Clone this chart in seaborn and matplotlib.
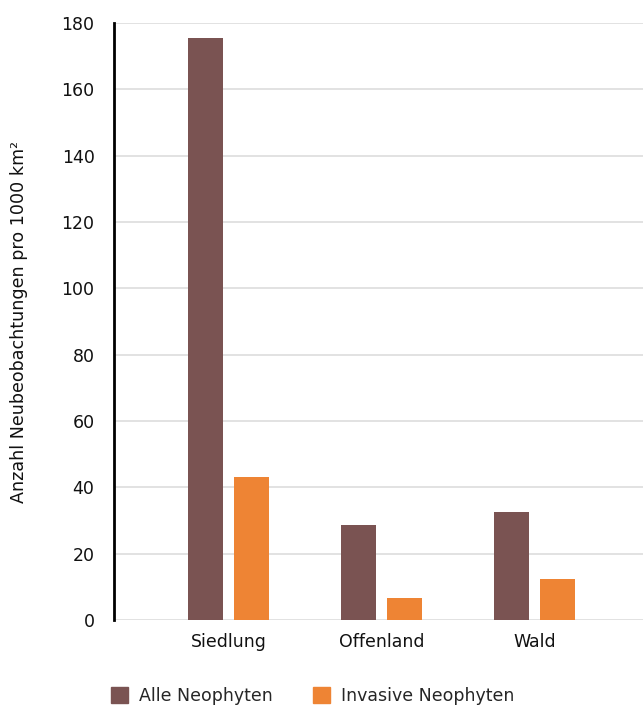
import pandas as pd
import matplotlib.pyplot as plt
import seaborn as sns
from matplotlib.patches import Patch

# Data
categories = ['Siedlung', 'Offenland', 'Wald']
series = ['Alle Neophyten', 'Invasive Neophyten']
alle = [175.5, 28.6, 32.6]
invasive = [43.1, 6.6, 12.4]
colors = ['#7a5352', '#ee8434']

df = pd.DataFrame({
    'Lebensraum': categories * 2,
    'Gruppe': [series[0]] * 3 + [series[1]] * 3,
    'Wert': alle + invasive,
})

sns.set_style('white')
plt.rcParams['font.family'] = ['DejaVu Sans']

fig = plt.figure(figsize=(6.43, 7.06), dpi=100)
ax = fig.add_axes([0.1773, 0.1218, 0.8227, 0.8456])

sns.barplot(data=df, x='Lebensraum', y='Wert', hue='Gruppe', palette=colors,
            saturation=1, width=0.6, gap=0.23, linewidth=0,
            ax=ax, legend=False, zorder=3)

ax.set_xlim(-0.75, 2.71)
ax.set_ylim(0, 180)
ax.set_yticks(range(0, 181, 20))
ax.grid(axis='y', color='#dddddd', linewidth=1.2, zorder=0)
ax.set_axisbelow(True)
for s in ['top', 'right', 'bottom']:
    ax.spines[s].set_visible(False)
ax.spines['left'].set_color('black')
ax.spines['left'].set_linewidth(2)
ax.tick_params(axis='both', length=0, labelsize=12.5, colors='#111111')
ax.tick_params(axis='y', pad=14)
ax.tick_params(axis='x', pad=9)
ax.set_xlabel('')
ax.set_ylabel('Anzahl Neubeobachtungen pro 1000 km²', fontsize=12.6,
              labelpad=24, color='#111111')

handles = [Patch(color=c, label=l) for c, l in zip(colors, series)]
fig.legend(handles=handles, loc='center left', bbox_to_anchor=(0.148, 0.014),
           ncol=2, frameon=False, fontsize=12.5, handlelength=1.0, handleheight=1.0,
           columnspacing=2.35, handletextpad=0.6)

fig.savefig('out.png', dpi=100)
